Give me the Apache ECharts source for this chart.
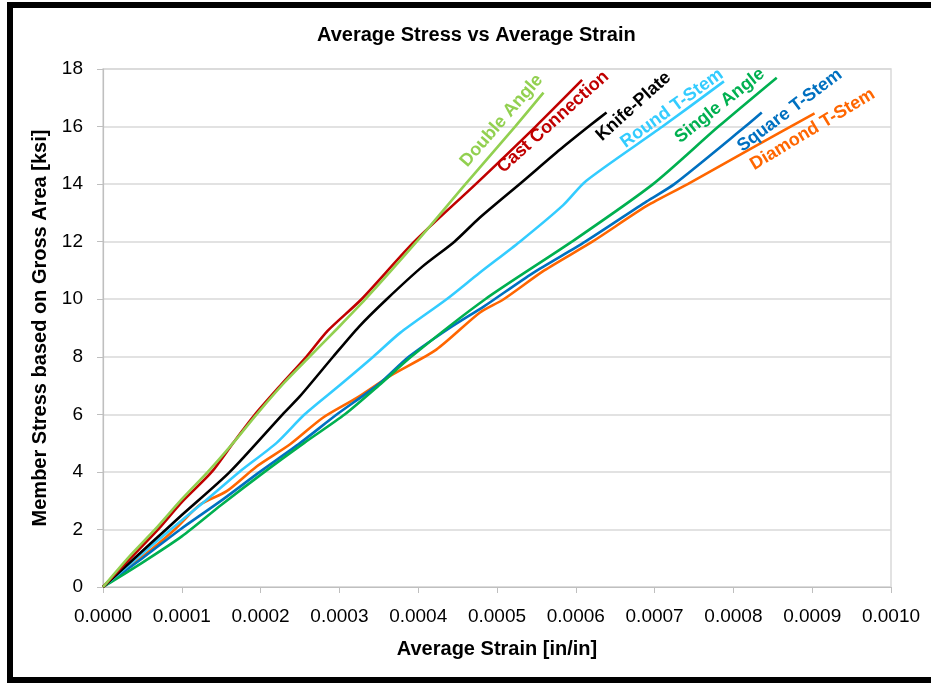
<!DOCTYPE html>
<html>
<head>
<meta charset="utf-8">
<script src="https://cdn.jsdelivr.net/npm/echarts@6/dist/echarts.min.js"></script>
<style>
  html, body { margin: 0; padding: 0; background: #fff; }
  #main { width: 931px; height: 683px; }
</style>
</head>
<body>
<div id="main"></div>
<script>
// values: strain [in/in] and stress [ksi]
const doubleAngleStrain = [0, 0.000033, 0.000066, 0.000100, 0.000133, 0.000165, 0.000195, 0.000230, 0.000262, 0.000298, 0.000333, 0.000398, 0.000460, 0.000523, 0.000559];
const doubleAngleStress = [0, 1.05, 2.0, 3.05, 4.0, 5.0, 6.0, 7.1, 8.0, 9.0, 10.0, 12.0, 14.0, 16.0, 17.18];

const castStrain = [0, 0.000035, 0.000070, 0.000100, 0.000138, 0.000165, 0.000193, 0.000225, 0.000258, 0.000285, 0.000328, 0.000395, 0.000473, 0.000549, 0.000608];
const castStress = [0, 1.0, 2.0, 2.95, 4.0, 5.0, 6.0, 7.0, 8.0, 8.9, 10.0, 12.0, 14.0, 16.0, 17.62];

const knifeStrain = [0, 0.000040, 0.000080, 0.000100, 0.000161, 0.000228, 0.000250, 0.000292, 0.000325, 0.000360, 0.000406, 0.000446, 0.000478, 0.000533, 0.000580, 0.000619, 0.000639];
const knifeStress = [0, 1.0, 2.0, 2.5, 4.0, 6.0, 6.63, 8.0, 9.05, 10.0, 11.15, 12.0, 12.83, 14.1, 15.2, 16.06, 16.49];

const roundStrain = [0, 0.000043, 0.000086, 0.000130, 0.000173, 0.000220, 0.000256, 0.000300, 0.000343, 0.000377, 0.000436, 0.000478, 0.000529, 0.000584, 0.000613, 0.000710, 0.000788];
const roundStress = [0, 1.0, 2.0, 3.0, 4.0, 5.0, 6.0, 7.0, 8.0, 8.83, 10.0, 10.92, 12.0, 13.27, 14.11, 16.0, 17.57];

const singleStrain = [0, 0.000050, 0.000100, 0.000150, 0.000205, 0.000255, 0.000307, 0.000350, 0.000391, 0.000485, 0.000595, 0.000698, 0.000781, 0.000855];
const singleStress = [0, 0.85, 1.76, 2.85, 4.0, 5.0, 6.0, 7.0, 8.0, 10.0, 12.0, 14.0, 16.0, 17.7];

const squareStrain = [0, 0.000050, 0.000098, 0.000150, 0.000199, 0.000250, 0.000297, 0.000350, 0.000388, 0.000440, 0.000484, 0.000545, 0.000612, 0.000690, 0.000725, 0.000815, 0.000836];
const squareStress = [0, 1.0, 2.0, 3.0, 4.0, 5.0, 6.0, 7.05, 8.0, 9.0, 9.76, 10.9, 12.0, 13.4, 14.0, 16.0, 16.49];

const diamondStrain = [0, 0.000050, 0.000091, 0.000123, 0.000157, 0.000195, 0.000237, 0.000279, 0.000322, 0.000364, 0.000423, 0.000478, 0.000508, 0.000560, 0.000621, 0.000690, 0.000742, 0.000820, 0.000903];
const diamondStress = [0, 1.05, 2.0, 2.86, 3.33, 4.19, 4.95, 5.88, 6.57, 7.33, 8.25, 9.53, 9.99, 11.0, 12.0, 13.24, 14.0, 15.2, 16.46];

const seriesNames = ['Double Angle', 'Cast Connection', 'Knife-Plate', 'Round T-Stem', 'Single Angle', 'Square T-Stem', 'Diamond T-Stem'];
const seriesColors = ['#92D050', '#C00000', '#000000', '#33CCFF', '#00B050', '#0070C0', '#FF6600'];
const strainLists = [doubleAngleStrain, castStrain, knifeStrain, roundStrain, singleStrain, squareStrain, diamondStrain];
const stressLists = [doubleAngleStress, castStress, knifeStress, roundStress, singleStress, squareStress, diamondStress];

// label placement: pixel offset of the text centre from the line end, and angle in degrees
const labelDx = [-42, -29, 27, -52, -57, 28, -2];
const labelDy = [28, 42, -6, 27, 28, -2, 16];
const labelAngle = [49, 42, 42, 36, 38.5, 37, 31];

const FONT = "'Liberation Sans', Arial, sans-serif";

function pairs(xs, ys) {
  return xs.map(function (x, i) { return [x, ys[i]]; });
}

const chart = echarts.init(document.getElementById('main'), null, { renderer: 'canvas' });

const series = seriesNames.map(function (name, i) {
  return {
    name: name,
    type: 'line',
    data: pairs(strainLists[i], stressLists[i]),
    showSymbol: false,
    smooth: 0.25,
    lineStyle: { color: seriesColors[i], width: 2.6 },
    itemStyle: { color: seriesColors[i] },
    silent: true,
    z: 10 - i
  };
});

chart.setOption({
  animation: false,
  backgroundColor: '#fff',
  title: {
    text: 'Average Stress vs Average Strain',
    left: 312,
    top: 20,
    textStyle: { fontFamily: FONT, fontWeight: 'bold', fontSize: 20, color: '#000' }
  },
  grid: {
    left: 103, right: 40, top: 69, bottom: 96,
    show: true, borderColor: '#d9d9d9', borderWidth: 1.5
  },
  xAxis: {
    type: 'value',
    min: 0, max: 0.001, interval: 0.0001,
    name: 'Average Strain [in/in]',
    nameLocation: 'middle',
    nameGap: 52,
    nameTextStyle: { fontFamily: FONT, fontWeight: 'bold', fontSize: 20, color: '#000' },
    axisLine: { lineStyle: { color: '#bfbfbf', width: 1.2 } },
    axisTick: { show: true, length: 6, lineStyle: { color: '#bfbfbf' } },
    axisLabel: {
      margin: 20,
      fontFamily: FONT, fontSize: 19, color: '#000',
      formatter: function (v) { return v.toFixed(4); }
    },
    splitLine: { show: false }
  },
  yAxis: {
    type: 'value',
    min: 0, max: 18, interval: 2,
    name: 'Member Stress based on Gross Area [ksi]',
    nameLocation: 'middle',
    nameGap: 49,
    nameTextStyle: { fontFamily: FONT, fontWeight: 'bold', fontSize: 20, color: '#000' },
    axisLine: { show: true, lineStyle: { color: '#bfbfbf', width: 1.2 } },
    axisTick: { show: true, length: 6, lineStyle: { color: '#bfbfbf' } },
    axisLabel: { margin: 20, fontFamily: FONT, fontSize: 19, color: '#000' },
    splitLine: { lineStyle: { color: '#d9d9d9', width: 1.5 } }
  },
  series: series
});

// rotated labels next to the line ends, plus the dark frame of the picture
const graphics = [{
  type: 'rect',
  shape: { x: 10, y: 5, width: 960, height: 675 },
  style: { fill: 'none', stroke: '#000', lineWidth: 6 },
  silent: true
}];
seriesNames.forEach(function (name, i) {
  const n = strainLists[i].length - 1;
  const p = chart.convertToPixel({ gridIndex: 0 }, [strainLists[i][n], stressLists[i][n]]);
  graphics.push({
    type: 'text',
    x: p[0] + labelDx[i],
    y: p[1] + labelDy[i],
    rotation: labelAngle[i] * Math.PI / 180,
    style: {
      text: name,
      fill: seriesColors[i],
      fontFamily: FONT,
      fontWeight: 'bold',
      fontSize: 18,
      align: 'center',
      verticalAlign: 'middle'
    },
    z: 100
  });
});
chart.setOption({ graphic: graphics });
</script>
</body>
</html>
